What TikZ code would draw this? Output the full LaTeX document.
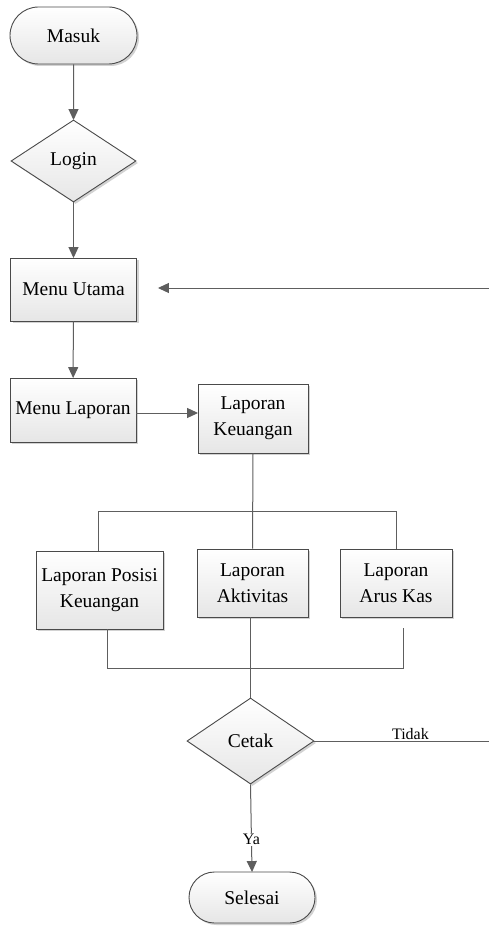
\documentclass[tikz,border=0pt]{standalone}
\usepackage{fontspec}
\setmainfont{Liberation Serif}
\usetikzlibrary{arrows.meta,shapes.geometric,shapes.misc,shadows,calc}

\definecolor{edgegray}{HTML}{4A4A4A}
\definecolor{linegray}{HTML}{5E5E5E}
\definecolor{fillbottom}{HTML}{E6E6E6}

\tikzset{
  base/.style={draw=edgegray, line width=0.9pt, inner sep=0pt, align=center,
    top color=white, bottom color=fillbottom,
    drop shadow={shadow xshift=2pt, shadow yshift=-2pt, fill=black!22, opacity=0.8},
    font=\fontsize{19.5}{26}\selectfont},
  procbox/.style={base, rectangle},
  termbox/.style={base, rounded rectangle},
  decbox/.style={base, diamond},
  conn/.style={draw=linegray, line width=1pt},
  arr/.style={conn, -{Triangle[length=11pt, width=10pt]}, shorten >=-0.5pt},
  lbl/.style={font=\fontsize{16}{18}\selectfont, inner sep=1pt}
}

\begin{document}
\begin{tikzpicture}[x=1pt, y=-1pt]
  \useasboundingbox (0,0) rectangle (489,928);
  \fill[white] (0,0) rectangle (489,928);

  % flowchart nodes
  \node[termbox, minimum width=127pt, minimum height=57pt] (masuk) at (73.5,35.5) {Masuk};
  \node[decbox, minimum width=125pt, minimum height=82pt, aspect=1.52] (login) at (73.5,161) {Login};
  \node[procbox, minimum width=126pt, minimum height=63pt] (utama) at (73.5,289.5) {Menu Utama};
  \node[procbox, minimum width=126pt, minimum height=64pt] (menulap) at (73,410) {Menu Laporan};
  \node[procbox, minimum width=110pt, minimum height=69pt] (keu) at (253,418.5) {Laporan\\Keuangan};
  \node[procbox, minimum width=127pt, minimum height=78pt] (posisi) at (99.5,590) {Laporan Posisi\\Keuangan};
  \node[procbox, minimum width=111pt, minimum height=68pt] (aktiv) at (252.5,583) {Laporan\\Aktivitas};
  \node[procbox, minimum width=112pt, minimum height=68pt] (arus) at (396,583) {Laporan\\Arus Kas};
  \node[decbox, minimum width=127pt, minimum height=86pt, aspect=1.48] (cetak) at (250.5,741) {Cetak};
  \node[termbox, minimum width=126pt, minimum height=51pt] (selesai) at (252,897.5) {Selesai};

  % loose ends and routing points
  \coordinate (back) at (489,288);
  \coordinate (tidakend) at (489,741);
  \coordinate (busy) at (0,511);
  \coordinate (mergeL) at (107,629);
  \coordinate (mergeR) at (403,628);
  \coordinate (mergey) at (0,668);

  % main flow
  \draw[arr] (masuk) -- (login);
  \draw[arr] (login) -- (utama);
  \draw[arr] (utama) -- (menulap);
  \draw[arr] (menulap.east |- 0,413) -- (keu.west |- 0,413);
  \draw[arr, shorten >=21pt] (back) -- (back -| utama.east);

  % split into the three reports
  \draw[conn] (keu.south) -- (aktiv.north);
  \draw[conn] (posisi.north -| 98,0) |- (busy -| arus.north) -- (arus.north);

  % join of the reports
  \draw[conn] (mergeL) |- (mergey -| mergeR) -- (mergeR);
  \draw[conn] (aktiv.south -| cetak.north) -- (cetak.north);

  % decision outcomes
  \draw[conn] (cetak.east) -- (tidakend) node[lbl, pos=0.55, above] {Tidak};
  \draw[arr] (cetak.south) -- (selesai.north) node[lbl, pos=0.63, fill=white] {Ya};
\end{tikzpicture}
\end{document}
